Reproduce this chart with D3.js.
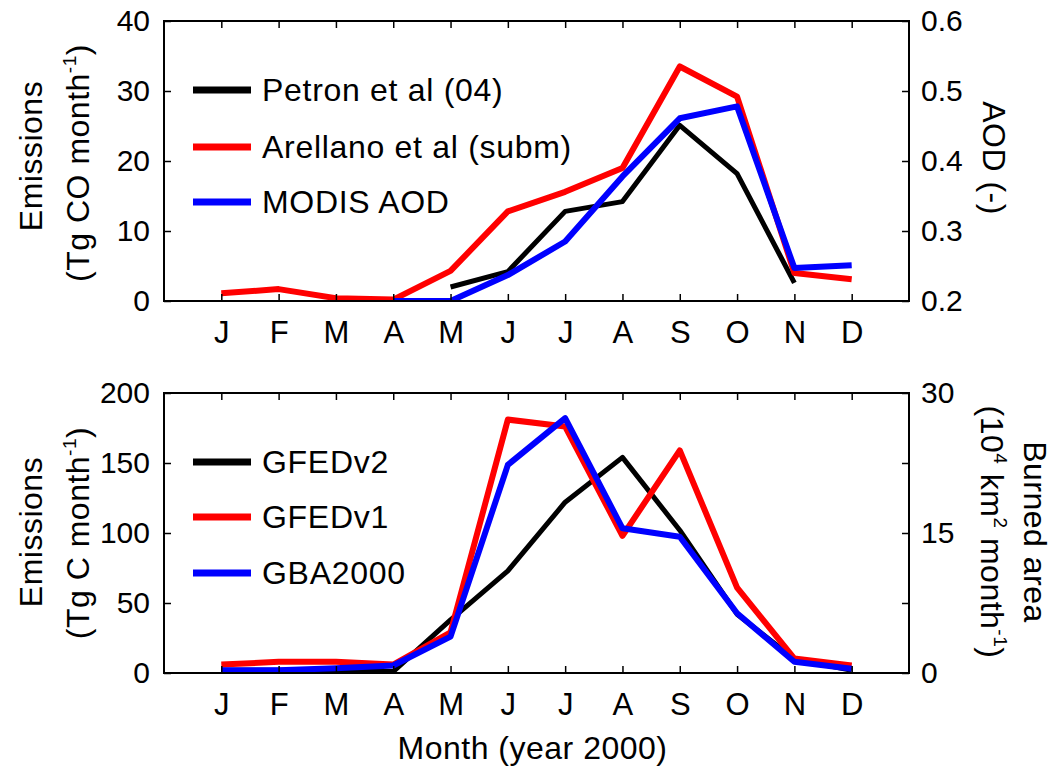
<!DOCTYPE html>
<html>
<head>
<meta charset="utf-8">
<script src="https://cdn.jsdelivr.net/npm/d3@7"></script>
<style>
    body { margin: 0; background: #fff; }
    text { font-family: 'Liberation Sans', Arial, sans-serif; fill: #000; }
</style>
</head>
<body>
<div id="chart"></div>
<script>
const months = ['J', 'F', 'M', 'A', 'M', 'J', 'J', 'A', 'S', 'O', 'N', 'D'];

// top panel: CO emissions (left axis) and AOD (right axis)
const petron = [null, null, null, null, 2.0, 4.2, 12.8, 14.2, 25.1, 18.2, 2.6, null];
const arellano = [1.1, 1.7, 0.4, 0.2, 4.3, 12.8, 15.6, 19.0, 33.5, 29.2, 4.0, 3.1];
const modisAod = [null, null, null, 0.2, 0.2, 0.237, 0.285, 0.378, 0.461, 0.478, 0.247, 0.251];

// bottom panel: C emissions (left axis) and burned area (right axis)
const gfedv2 = [2, 2, 2, 1, 38, 73, 122, 154, 102, 42, 10, 2];
const gfedv1 = [6, 8, 8, 6, 29, 181, 176, 98, 159, 61, 10.3, 5.3];
const gba2000 = [0.3, 0.3, 0.5, 0.8, 3.9, 22.3, 27.3, 15.5, 14.6, 6.4, 1.2, 0.45];

const topLeftTicks = [0, 10, 20, 30, 40];
const topRightTicks = [0.2, 0.3, 0.4, 0.5, 0.6];
const bottomLeftTicks = [0, 50, 100, 150, 200];
const bottomRightTicks = [0, 7.5, 15, 22.5, 30];
const bottomRightLabels = [0, 15, 30];

const svgWidth = 1053;
const svgHeight = 769;
const plotLeft = 164;
const plotRight = 909;
const tickLength = 7;

const svg = d3.select('#chart')
    .append('svg')
    .attr('width', svgWidth)
    .attr('height', svgHeight);

const x = d3.scaleLinear().domain([0, 13]).range([plotLeft, plotRight]);

drawPanel({
    id: 'top',
    top: 21,
    bottom: 301,
    leftDomain: [0, 40],
    rightDomain: [0.2, 0.6],
    leftTicks: topLeftTicks,
    leftLabels: topLeftTicks,
    rightTicks: topRightTicks,
    rightLabels: topRightTicks,
    rightFormat: d3.format('.1f'),
    series: [
        { name: 'Petron et al (04)', values: petron, color: '#000', axis: 'left', width: 5 },
        { name: 'Arellano et al (subm)', values: arellano, color: '#f00', axis: 'left', width: 6 },
        { name: 'MODIS AOD', values: modisAod, color: '#00f', axis: 'right', width: 6 }
    ],
    legendRows: [90, 147, 202]
});

drawPanel({
    id: 'bottom',
    top: 393,
    bottom: 673,
    leftDomain: [0, 200],
    rightDomain: [0, 30],
    leftTicks: bottomLeftTicks,
    leftLabels: bottomLeftTicks,
    rightTicks: bottomRightTicks,
    rightLabels: bottomRightLabels,
    rightFormat: d3.format('d'),
    series: [
        { name: 'GFEDv2', values: gfedv2, color: '#000', axis: 'left', width: 5 },
        { name: 'GFEDv1', values: gfedv1, color: '#f00', axis: 'left', width: 6 },
        { name: 'GBA2000', values: gba2000, color: '#00f', axis: 'right', width: 6 }
    ],
    legendRows: [462, 517, 573]
});

// axis titles
rotatedLabel(42, 156, -90, [['Emissions']]);
rotatedLabel(89, 163, -90, [['(Tg CO month'], ['-1', 'sup'], [')']]);
rotatedLabel(983, 158, 90, [['AOD (-)']]);

rotatedLabel(42, 532, -90, [['Emissions']]);
rotatedLabel(89, 533, -90, [['(Tg C month'], ['-1', 'sup'], [')']]);
rotatedLabel(981, 532, 90, [['(10'], ['4', 'sup'], [' km'], ['2', 'sup'], [' month'], ['-1', 'sup'], [')']]);
rotatedLabel(1024, 532, 90, [['Burned area']]);

svg.append('text')
    .attr('x', (plotLeft + plotRight) / 2 - 4)
    .attr('y', 759)
    .attr('text-anchor', 'middle')
    .attr('font-size', 32)
    .attr('letter-spacing', 0.5)
    .text('Month (year 2000)');

function drawPanel(cfg) {
    const yLeft = d3.scaleLinear().domain(cfg.leftDomain).range([cfg.bottom, cfg.top]);
    const yRight = d3.scaleLinear().domain(cfg.rightDomain).range([cfg.bottom, cfg.top]);
    const g = svg.append('g');

    g.append('clipPath')
        .attr('id', 'clip-' + cfg.id)
        .append('rect')
        .attr('x', plotLeft)
        .attr('y', cfg.top)
        .attr('width', plotRight - plotLeft)
        .attr('height', cfg.bottom - cfg.top);

    // lines first, frame on top
    const lines = g.append('g').attr('clip-path', `url(#clip-${cfg.id})`);
    cfg.series.forEach(s => {
        const y = s.axis === 'left' ? yLeft : yRight;
        const line = d3.line()
            .defined(d => d != null)
            .x((d, i) => x(i + 1))
            .y(d => y(d));
        lines.append('path')
            .datum(s.values)
            .attr('d', line)
            .attr('fill', 'none')
            .attr('stroke', s.color)
            .attr('stroke-width', s.width)
            .attr('stroke-linejoin', 'round');
    });

    // bottom axis with month letters, ticks pointing inward
    const xAxis = d3.axisBottom(x)
        .tickValues(d3.range(1, 13))
        .tickSize(-tickLength)
        .tickPadding(20)
        .tickFormat((d, i) => months[i]);
    const xg = g.append('g')
        .attr('transform', `translate(0, ${cfg.bottom})`)
        .call(xAxis);
    xg.selectAll('text').attr('font-size', 31).attr('dy', null).attr('y', 42);

    // ticks along the top edge
    const xTop = d3.axisTop(x)
        .tickValues(d3.range(1, 13))
        .tickSize(-tickLength)
        .tickFormat('');
    g.append('g')
        .attr('transform', `translate(0, ${cfg.top})`)
        .call(xTop);

    const leftAxis = d3.axisLeft(yLeft)
        .tickValues(cfg.leftTicks)
        .tickSize(-tickLength)
        .tickPadding(14)
        .tickFormat(d => cfg.leftLabels.includes(d) ? d : '');
    g.append('g')
        .attr('transform', `translate(${plotLeft}, 0)`)
        .call(leftAxis)
        .selectAll('text').attr('font-size', 30);

    const rightAxis = d3.axisRight(yRight)
        .tickValues(cfg.rightTicks)
        .tickSize(-tickLength)
        .tickPadding(12)
        .tickFormat(d => cfg.rightLabels.includes(d) ? cfg.rightFormat(d) : '');
    g.append('g')
        .attr('transform', `translate(${plotRight}, 0)`)
        .call(rightAxis)
        .selectAll('text').attr('font-size', 30);

    g.selectAll('.domain').remove();
    g.selectAll('.tick line').attr('stroke', '#000').attr('stroke-width', 1.5);
    g.selectAll('.tick text').attr('fill', '#000').attr('font-family', "'Liberation Sans', Arial, sans-serif");

    g.append('rect')
        .attr('x', plotLeft)
        .attr('y', cfg.top)
        .attr('width', plotRight - plotLeft)
        .attr('height', cfg.bottom - cfg.top)
        .attr('fill', 'none')
        .attr('stroke', '#000')
        .attr('stroke-width', 2);

    // legend
    cfg.series.forEach((s, i) => {
        const rowY = cfg.legendRows[i];
        g.append('line')
            .attr('x1', 193)
            .attr('x2', 251)
            .attr('y1', rowY)
            .attr('y2', rowY)
            .attr('stroke', s.color)
            .attr('stroke-width', 7);
        g.append('text')
            .attr('x', 262)
            .attr('y', rowY + 11)
            .attr('font-size', 32)
            .attr('letter-spacing', 0.7)
            .text(s.name);
    });
}

function rotatedLabel(cx, cy, angle, parts) {
    const t = svg.append('text')
        .attr('transform', `translate(${cx}, ${cy}) rotate(${angle})`)
        .attr('text-anchor', 'middle')
        .attr('font-size', 32)
        .attr('letter-spacing', 0.5);
    let raised = false;
    parts.forEach(p => {
        const span = t.append('tspan').text(p[0]);
        if (p[1] === 'sup') {
            span.attr('font-size', 19).attr('dy', -13);
            raised = true;
        } else if (raised) {
            span.attr('dy', 13).attr('font-size', 32);
            raised = false;
        }
    });
}
</script>
</body>
</html>
